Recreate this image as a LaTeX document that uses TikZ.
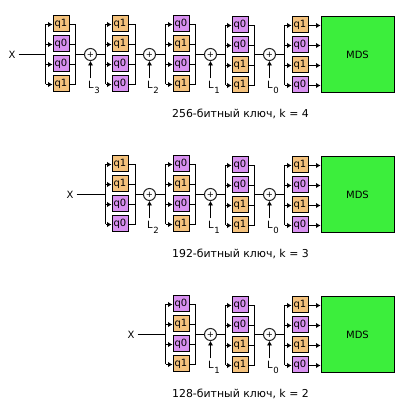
\documentclass[tikz,border=0pt]{standalone}
\usepackage{fontspec}
\setmainfont{DejaVu Sans}
\usetikzlibrary{arrows.meta}
\definecolor{qone}{HTML}{F4C27C}
\definecolor{qzero}{HTML}{D890F0}
\definecolor{mdsgreen}{HTML}{3CEE3C}
\tikzset{
  x=1pt,y=-1pt,
  wire/.style={draw=black,line width=1pt},
  arr/.style={wire,-{Latex[length=4.5pt,width=5.5pt]}},
  qbox/.style={draw=black,line width=1pt,minimum width=16pt,minimum height=16pt,inner sep=0pt,font=\fontsize{10}{10}\selectfont},
  qa/.style={qbox,fill=qone},
  qb/.style={qbox,fill=qzero},
  xorc/.style={circle,draw=black!85,line width=1pt,fill=white,minimum size=12pt,inner sep=0pt,font=\fontsize{8.5}{8.5}\selectfont},
  mdsbox/.style={draw=black,line width=1pt,fill=mdsgreen,minimum width=73pt,minimum height=76pt,inner sep=0pt,font=\fontsize{10}{10}\selectfont},
  lbl/.style={inner sep=0pt,font=\fontsize{10}{10}\selectfont},
  captext/.style={inner sep=0pt,anchor=west,font=\fontsize{10.9}{12}\selectfont},
}
% id, box centre x, first box centre y, left bus x, right bus x, mid wire y, four styles
\newcommand{\qcolbase}[6]{%
  \def\qid{#1}\def\qx{#2}\def\qy{#3}\def\qlx{#4}\def\qrx{#5}\def\qmid{#6}\qcolrest}
\newcommand{\qcolrest}[4]{%
  \node[#1] (\qid a) at (\qx,\qy) {\csname lab#1\endcsname};
  \node[#2] (\qid b) at (\qx,\qy+20) {\csname lab#2\endcsname};
  \node[#3] (\qid c) at (\qx,\qy+40) {\csname lab#3\endcsname};
  \node[#4] (\qid d) at (\qx,\qy+60) {\csname lab#4\endcsname};
  \coordinate (\qid la) at (\qlx,\qy+.5);
  \coordinate (\qid lb) at (\qlx,\qy+20.5);
  \coordinate (\qid lc) at (\qlx,\qy+40.5);
  \coordinate (\qid ld) at (\qlx,\qy+60.5);
  \coordinate (\qid ra) at (\qrx,\qy+.5);
  \coordinate (\qid rb) at (\qrx,\qy+20.5);
  \coordinate (\qid rc) at (\qrx,\qy+40.5);
  \coordinate (\qid rd) at (\qrx,\qy+60.5);
  \coordinate (\qid in) at (\qlx,\qmid);
  \coordinate (\qid out) at (\qrx,\qmid);
  \draw[wire] (\qid la) -- (\qid ld);
  \foreach \k in {a,b,c,d} {\draw[arr] (\qid l\k) -- (\qid l\k -| \qid\k.west);}
}
\newcommand{\qright}[1]{%
  \draw[wire] (#1ra -| #1a.east) -- (#1ra) -- (#1rd) -- (#1rd -| #1d.east);
  \draw[wire] (#1rb -| #1b.east) -- (#1rb);
  \draw[wire] (#1rc -| #1c.east) -- (#1rc);
}
% id, centre x, centre y, subscript
\newcommand{\xorat}[4]{%
  \node[xorc] (#1) at (#2,#3) {+};
  \coordinate (#1tail) at (#2,#3+24);
  \node[lbl,anchor=west] (#1lab) at (#2-2.5,#3+33) {L\kern.5pt\raisebox{-5pt}{\fontsize{8.5}{9}\selectfont #4}};
  \draw[arr] (#1tail) -- (#1);
}
\newcommand{\labqa}{q1}
\newcommand{\labqb}{q0}
\begin{document}
\begin{tikzpicture}
\useasboundingbox (0,0) rectangle (413,411);
% ---------- row 1
\node[lbl] (xA) at (12,54.5) {X};
\qcolbase{Aa}{61}{24}{45.5}{75.5}{54.5}{qa}{qb}{qb}{qa}\qright{Aa}
\qcolbase{Ab}{120}{24}{105.5}{135.5}{54.5}{qa}{qa}{qb}{qb}\qright{Ab}
\qcolbase{Ac}{181}{24}{165.5}{195.5}{54.5}{qb}{qa}{qb}{qa}\qright{Ac}
\qcolbase{Ad}{240}{25}{225.5}{254.5}{54.5}{qb}{qb}{qa}{qa}\qright{Ad}
\qcolbase{Ae}{300}{25}{284.5}{314.5}{54.5}{qa}{qb}{qa}{qb}
\xorat{Ax}{90.5}{54.5}{3}
\xorat{Ay}{149.5}{54.5}{2}
\xorat{Az}{210.5}{54.5}{1}
\xorat{Aw}{269.5}{54.5}{0}
\draw[wire] (xA.east) ++(3,0) -- (Aain);
\draw[wire] (Aaout) -- (Ax) -- (Abin);
\draw[wire] (About) -- (Ay) -- (Acin);
\draw[wire] (Acout) -- (Az) -- (Adin);
\draw[wire] (Adout) -- (Aw) -- (Aein);
\node[mdsbox] (mA) at (357.5,55) {MDS};
\foreach \k in {a,b,c,d} {\draw[arr] (Aer\k -| Ae\k.east) -- (Aer\k -| mA.west);}
\node[captext] (cA) at (172,113.5) {256-битный ключ, k = 4};
% ---------- row 2
\node[lbl] (xB) at (70,194.5) {X};
\qcolbase{Bb}{120}{164}{105.5}{135.5}{194.5}{qa}{qa}{qb}{qb}\qright{Bb}
\qcolbase{Bc}{181}{164}{165.5}{195.5}{194.5}{qb}{qa}{qb}{qa}\qright{Bc}
\qcolbase{Bd}{240}{165}{225.5}{254.5}{194.5}{qb}{qb}{qa}{qa}\qright{Bd}
\qcolbase{Be}{300}{165}{284.5}{314.5}{194.5}{qa}{qb}{qa}{qb}
\xorat{By}{149.5}{194.5}{2}
\xorat{Bz}{210.5}{194.5}{1}
\xorat{Bw}{269.5}{194.5}{0}
\draw[wire] (xB.east) ++(3,0) -- (Bbin);
\draw[wire] (Bbout) -- (By) -- (Bcin);
\draw[wire] (Bcout) -- (Bz) -- (Bdin);
\draw[wire] (Bdout) -- (Bw) -- (Bein);
\node[mdsbox] (mB) at (357.5,195) {MDS};
\foreach \k in {a,b,c,d} {\draw[arr] (Ber\k -| Be\k.east) -- (Ber\k -| mB.west);}
\node[captext] (cB) at (172,254) {192-битный ключ, k = 3};
% ---------- row 3
\node[lbl] (xC) at (131,334.5) {X};
\qcolbase{Cc}{181}{304}{165.5}{195.5}{334.5}{qb}{qa}{qb}{qa}\qright{Cc}
\qcolbase{Cd}{240}{305}{225.5}{254.5}{334.5}{qb}{qb}{qa}{qa}\qright{Cd}
\qcolbase{Ce}{300}{305}{284.5}{314.5}{334.5}{qa}{qb}{qa}{qb}
\xorat{Cz}{210.5}{334.5}{1}
\xorat{Cw}{269.5}{334.5}{0}
\draw[wire] (xC.east) ++(3,0) -- (Ccin);
\draw[wire] (Ccout) -- (Cz) -- (Cdin);
\draw[wire] (Cdout) -- (Cw) -- (Cein);
\node[mdsbox] (mC) at (357.5,335) {MDS};
\foreach \k in {a,b,c,d} {\draw[arr] (Cer\k -| Ce\k.east) -- (Cer\k -| mC.west);}
\node[captext] (cC) at (172,394) {128-битный ключ, k = 2};
\end{tikzpicture}
\end{document}
